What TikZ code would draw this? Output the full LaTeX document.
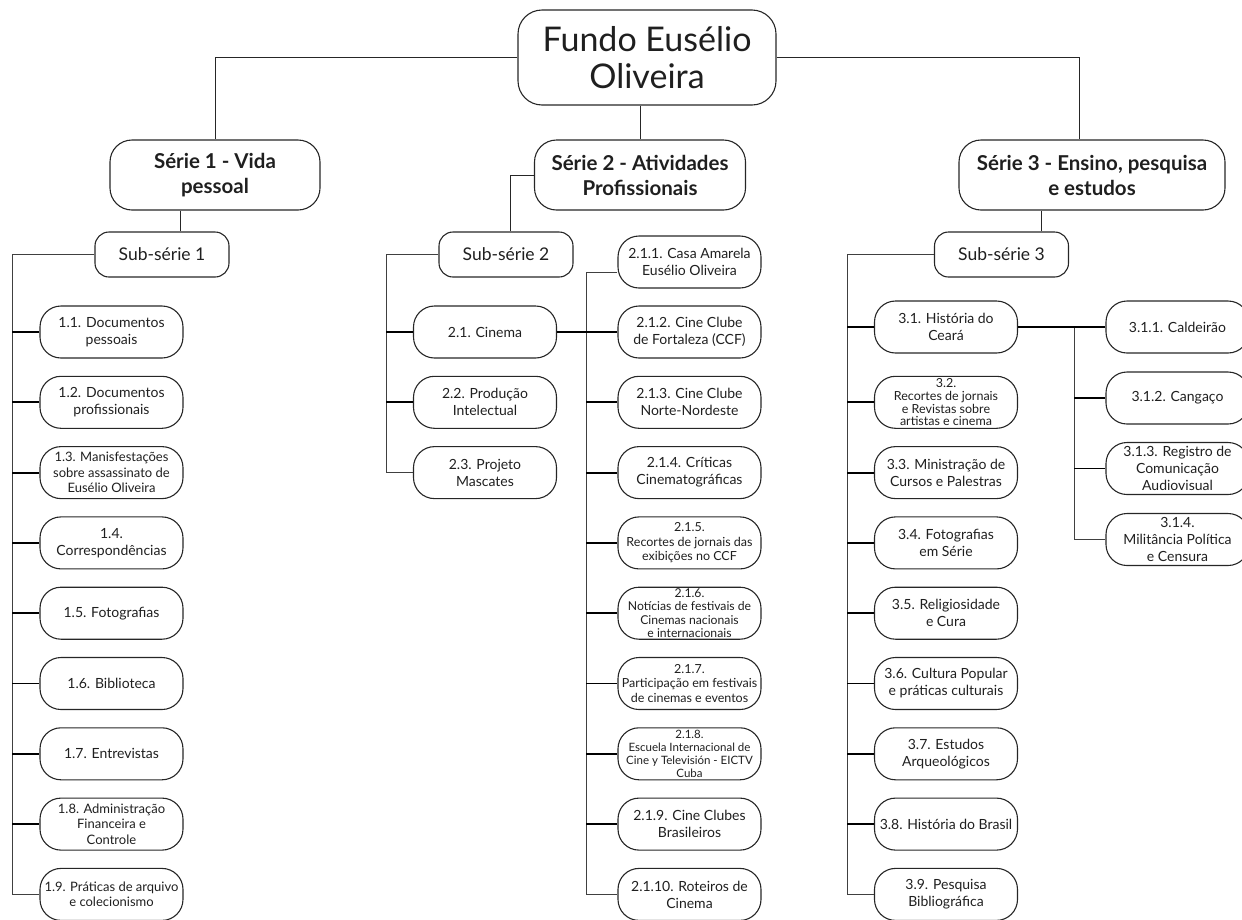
\documentclass[tikz,border=0pt]{standalone}
\usepackage{fontspec}
\setmainfont{Lato}
\begin{document}
\begin{tikzpicture}[x=1pt,y=-1pt,
  box/.style={draw=black!85, line width=1.1pt, align=center, inner sep=0pt, text=black!88},
  rootbox/.style={box, rounded corners=24pt, minimum width=258pt, minimum height=95pt, font=\fontsize{34}{37}\selectfont},
  seriebox/.style={box, rounded corners=22pt, minimum height=70pt, font=\bfseries\fontsize{20.5}{25}\selectfont},
  subbox/.style={box, rounded corners=14pt, minimum width=134pt, minimum height=45pt, font=\fontsize{17.5}{20}\selectfont},
  leaf/.style={box, rounded corners=21pt, minimum width=143pt, minimum height=52pt, font=\fontsize{14}{17}\selectfont},
  mid/.style={font=\fontsize{13}{15.5}\selectfont},
  small/.style={font=\fontsize{12.5}{14.5}\selectfont},
  tiny/.style={font=\fontsize{11.5}{13}\selectfont},
  link/.style={draw=black!85, line width=1pt},
  bus/.style={draw=black!75, line width=1pt},
  stub/.style={draw=black, line width=1.9pt}]
\useasboundingbox (0,0) rectangle (1242,919);

% top levels
\node[rootbox] (root) at (647,57.5) {Fundo Eusélio\\Oliveira};
\node[seriebox, minimum width=210pt] (s1) at (215,175) {Série 1 - Vida\\pessoal};
\node[seriebox, minimum width=211pt] (s2) at (640,175) {Série 2 - Atividades\\Profissionais};
\node[seriebox, minimum width=266pt] (s3) at (1092,175) {Série 3 - Ensino, pesquisa\\e estudos};

\node[subbox] (sub1) at (162,254.5) {Sub-série 1};
\node[subbox] (sub2) at (506,254.5) {Sub-série 2};
\node[subbox] (sub3) at (1001.5,254.5) {Sub-série 3};

\draw[link] (root.west) -| (s1.north);
\draw[link] (root.east) -| ([xshift=-13pt]s3.north);
\draw[link] (s2.north |- root.south) -- (s2.north);
\draw[link] ([xshift=-35pt]s1.south) -- ([xshift=18pt]sub1.north);
\draw[link] (s2.west) -| ([xshift=4pt]sub2.north);
\draw[link] ([xshift=39.5pt]sub3.north) -- ([xshift=39.5pt]sub3.north |- s3.south);

% series 1
\node[leaf] (a1) at (111.5,332)   {1.1. Documentos\\pessoais};
\node[leaf] (a2) at (111.5,402.3) {1.2. Documentos\\profissionais};
\node[leaf, mid] (a3) at (111.5,472.6) {1.3. Manisfestações\\sobre assassinato de\\Eusélio Oliveira};
\node[leaf] (a4) at (111.5,542.9) {1.4.\\Correspondências};
\node[leaf] (a5) at (111.5,613.2) {1.5. Fotografias};
\node[leaf] (a6) at (111.5,683.5) {1.6. Biblioteca};
\node[leaf] (a7) at (111.5,753.8) {1.7. Entrevistas};
\node[leaf, mid] (a8) at (111.5,824.1) {1.8. Administração\\Financeira e\\Controle};
\node[leaf, mid] (a9) at (111.5,894.4) {1.9. Práticas de arquivo\\e colecionismo};

\coordinate (b1) at (12,0);
\draw[bus] (sub1.west) -| (b1 |- a9.west) -- (a9.west);
\foreach \n in {a1,a2,a3,a4,a5,a6,a7,a8}
  \draw[stub] (b1 |- \n.west) -- (\n.west);

% series 2
\node[leaf] (c1) at (485,332)   {2.1. Cinema};
\node[leaf] (c2) at (485,402.3) {2.2. Produção\\Intelectual};
\node[leaf] (c3) at (485,472.6) {2.3. Projeto\\Mascates};

\coordinate (b2) at (386,0);
\draw[bus] (sub2.west) -| (b2 |- c3.west) -- (c3.west);
\foreach \n in {c1,c2}
  \draw[stub] (b2 |- \n.west) -- (\n.west);

\node[leaf] (d1)  at (689.5,262)   {2.1.1. Casa Amarela\\Eusélio Oliveira};
\node[leaf] (d2)  at (689.5,332)   {2.1.2. Cine Clube\\de Fortaleza (CCF)};
\node[leaf] (d3)  at (689.5,402.3) {2.1.3. Cine Clube\\Norte-Nordeste};
\node[leaf] (d4)  at (689.5,472.6) {2.1.4. Críticas\\Cinematográficas};
\node[leaf, small] (d5)  at (689.5,542.9) {2.1.5.\\Recortes de jornais das\\exibições no CCF};
\node[leaf, font=\fontsize{12.2}{13.2}\selectfont] (d6)  at (689.5,613.2) {2.1.6.\\Notícias de festivais de\\Cinemas nacionais\\e internacionais};
\node[leaf, small] (d7)  at (689.5,683.5) {2.1.7.\\Participação em festivais\\de cinemas e eventos};
\node[leaf, tiny] (d8)  at (689.5,753.8) {2.1.8.\\Escuela Internacional de\\Cine y Televisión - EICTV\\Cuba};
\node[leaf] (d9)  at (689.5,824.1) {2.1.9. Cine Clubes\\Brasileiros};
\node[leaf] (d10) at (689.5,894.4) {2.1.10. Roteiros de\\Cinema};

\coordinate (b3) at (586,0);
\draw[bus] ([yshift=-10pt]d1.west) -| (b3 |- d10.west) -- (d10.west);
\draw[stub] (c1.east) -- (d2.west);
\foreach \n in {d3,d4,d5,d6,d7,d8,d9}
  \draw[stub] (b3 |- \n.west) -- (\n.west);

% series 3
\node[leaf] (e1) at (946,327)   {3.1. História do\\Ceará};
\node[leaf, font=\fontsize{12.5}{12.8}\selectfont] (e2) at (946,402.3) {3.2.\\Recortes de jornais\\e Revistas sobre\\artistas e cinema};
\node[leaf] (e3) at (946,472.6) {3.3. Ministração de\\Cursos e Palestras};
\node[leaf] (e4) at (946,542.9) {3.4. Fotografias\\em Série};
\node[leaf] (e5) at (946,613.2) {3.5. Religiosidade\\e Cura};
\node[leaf] (e6) at (946,683.5) {3.6. Cultura Popular\\e práticas culturais};
\node[leaf] (e7) at (946,753.8) {3.7. Estudos\\Arqueológicos};
\node[leaf] (e8) at (946,824.1) {3.8. História do Brasil};
\node[leaf] (e9) at (946,894.4) {3.9. Pesquisa\\Bibliográfica};

\coordinate (b4) at (847,0);
\draw[bus] (sub3.west) -| (b4 |- e9.west) -- (e9.west);
\foreach \n in {e1,e2,e3,e4,e5,e6,e7,e8}
  \draw[stub] (b4 |- \n.west) -- (\n.west);

\node[leaf] (f1) at (1177.5,327)   {3.1.1. Caldeirão};
\node[leaf] (f2) at (1177.5,398)   {3.1.2. Cangaço};
\node[leaf] (f3) at (1177.5,468.5) {3.1.3. Registro de\\Comunicação\\Audiovisual};
\node[leaf] (f4) at (1177.5,539.5) {3.1.4.\\Militância Política\\e Censura};

\coordinate (b5) at (1074,0);
\draw[bus] (b5 |- e1.east) -- (b5 |- f4.west) -- (f4.west);
\draw[stub] (e1.east) -- (f1.west);
\foreach \n in {f2,f3}
  \draw[stub] (b5 |- \n.west) -- (\n.west);
\end{tikzpicture}
\end{document}
